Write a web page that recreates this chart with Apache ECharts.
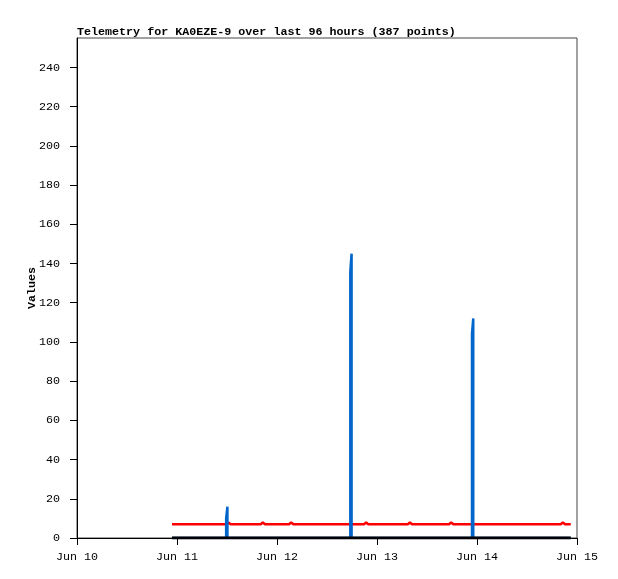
<!DOCTYPE html>
<html>
<head>
<meta charset="utf-8">
<script src="https://cdn.jsdelivr.net/npm/echarts@6/dist/echarts.min.js"></script>
<style>html,body{margin:0;padding:0;background:#fff;}#c{width:618px;height:579px;}</style>
</head>
<body>
<div id="c"></div>
<script>
// x values are hours since Jun 10 00:00
const xTickLabels = ['Jun 10', 'Jun 11', 'Jun 12', 'Jun 13', 'Jun 14', 'Jun 15'];
const redHours  = [22.8, 35.9, 36.4, 36.9, 44.1, 44.6, 45.1, 50.9, 51.4, 51.9, 68.9, 69.4, 69.9, 79.4, 79.9, 80.4, 89.3, 89.8, 90.3, 116.1, 116.6, 117.1, 118.5];
const redValues = [7, 7, 7.8, 7, 7, 8, 7, 7, 8, 7, 7, 8, 7, 7, 8, 7, 7, 8, 7, 7, 8, 7, 7];
const blueHours  = [22.8, 35.8, 35.8, 36.1, 36.1, 65.6, 65.6, 65.9, 65.9, 94.8, 94.8, 95.1, 95.1, 118.5];
const blueValues = [0, 0, 10, 16, 0, 0, 136, 145, 0, 0, 104, 112, 0, 0];
const blackHours  = [22.8, 118.5];
const blackValues = [0, 0];

const zip = (a, b) => a.map((v, i) => [v, b[i]]);
const font = '"Liberation Mono", "DejaVu Sans Mono", monospace';

const chart = echarts.init(document.getElementById('c'));
chart.setOption({
  animation: false,
  backgroundColor: '#fff',
  title: {
    text: 'Telemetry for KA0EZE-9 over last 96 hours (387 points)',
    left: 72, top: 21,
    textStyle: { fontFamily: font, fontSize: 11.7, fontWeight: 'bold', color: '#000' }
  },
  grid: { left: 77, right: 41, top: 38, bottom: 41, show: true, borderColor: '#444', borderWidth: 1, backgroundColor: 'transparent' },
  xAxis: {
    type: 'value', min: 0, max: 120, interval: 24,
    axisLine: { lineStyle: { color: '#000', width: 1 } },
    axisTick: { show: true, length: 7, inside: false, lineStyle: { color: '#000' } },
    axisLabel: { margin: 13, fontFamily: font, fontSize: 11.7, color: '#000',
      formatter: v => xTickLabels[Math.round(v / 24)] },
    splitLine: { show: false }
  },
  yAxis: {
    type: 'value', min: 0, max: 255, interval: 20,
    name: 'Values', nameLocation: 'middle', nameGap: 39, nameRotate: 90, nameMoveOverlap: false,
    nameTextStyle: { fontFamily: font, fontSize: 11.7, fontWeight: 'bold', color: '#000' },
    axisLine: { show: true, lineStyle: { color: '#000', width: 1 } },
    axisTick: { show: true, length: 7, lineStyle: { color: '#000' } },
    axisLabel: { margin: 17, fontFamily: font, fontSize: 11.7, color: '#000', showMaxLabel: false,
      formatter: v => (v % 20 === 0 ? String(v) : '') },
    splitLine: { show: false }
  },
  series: [
    { type: 'line', data: zip(redHours, redValues), symbol: 'none', lineStyle: { color: '#ff0000', width: 2.5 }, z: 2 },
    { type: 'line', data: zip(blueHours, blueValues), symbol: 'none', lineStyle: { color: '#0066cc', width: 2.5, cap: 'butt', join: 'miter' }, z: 3 },
    { type: 'line', data: zip(blackHours, blackValues), symbol: 'none', lineStyle: { color: '#000', width: 3 }, z: 4 }
  ]
});
</script>
</body>
</html>
